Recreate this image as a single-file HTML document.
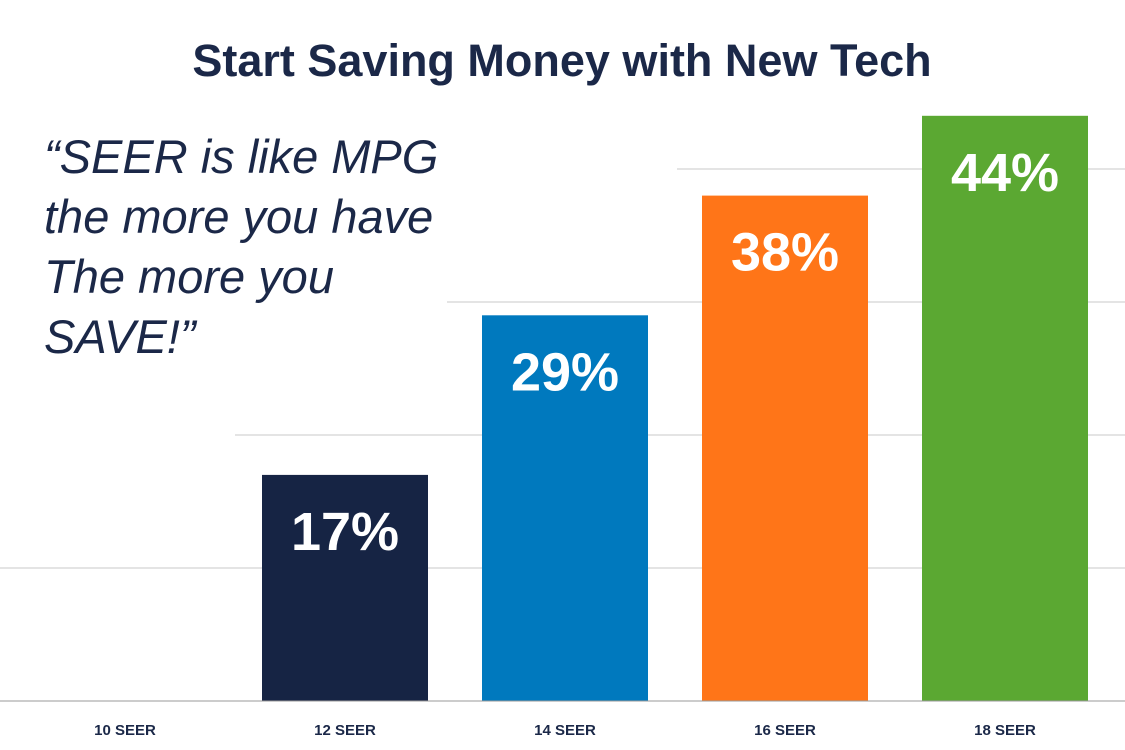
<!DOCTYPE html>
<html><head><meta charset="utf-8"><style>
body{margin:0;background:#fff;}
svg{display:block;font-family:"Liberation Sans",sans-serif;}
</style></head><body>
<svg id="chart" width="1125" height="750" viewBox="0 0 1125 750">
<text x="562" y="76" text-anchor="middle" font-size="45" font-weight="bold" fill="#1b2848">Start Saving Money with New Tech</text>
<g id="grid"></g>
<g id="bars"></g>
<g font-size="47" font-style="italic" fill="#1b2848">
<text x="44" y="173">“SEER is like MPG</text>
<text x="44" y="233">the more you have</text>
<text x="44" y="293">The more you</text>
<text x="44" y="353">SAVE!”</text>
</g>
<line x1="0" y1="701" x2="1125" y2="701" stroke="#999" stroke-width="1"/>
<g id="xlabels"></g>
</svg>
<script>
const categories=["10 SEER","12 SEER","14 SEER","16 SEER","18 SEER"];
const values=[0,17,29,38,44];
const valueLabels=["","17%","29%","38%","44%"];
const gridTicks=[10,20,30,40];
const colors=["#162444","#162444","#0079be","#ff7518","#5ba832"];
const NS="http://www.w3.org/2000/svg";
const base=701, pxPer=13.3, step=220, x0=125, bw=166;
const y=v=>base-v*pxPer;
const xc=i=>x0+i*step;
const grid=document.getElementById('grid'),bars=document.getElementById('bars'),xl=document.getElementById('xlabels');
const gridStarts=[0,235,447,677];
gridTicks.forEach((t,k)=>{
 const l=document.createElementNS(NS,'line');
 
 
 l.setAttribute('x1',gridStarts[k]||0);l.setAttribute('x2',1125);
 l.setAttribute('y1',y(t));l.setAttribute('y2',y(t));
 l.setAttribute('stroke','#c8c8c8');l.setAttribute('stroke-width','1');
 grid.appendChild(l);
});
categories.forEach((c,i)=>{
 if(values[i]>0){
  const r=document.createElementNS(NS,'rect');
  
  
  r.setAttribute('x',xc(i)-bw/2);r.setAttribute('width',bw);
  r.setAttribute('y',y(values[i]));r.setAttribute('height',values[i]*pxPer);
  r.setAttribute('fill',colors[i]);
  bars.appendChild(r);
  const t=document.createElementNS(NS,'text');
  
  
  t.setAttribute('x',xc(i));t.setAttribute('y',y(values[i])+75);
  t.setAttribute('text-anchor','middle');t.setAttribute('font-size','54');
  t.setAttribute('font-weight','bold');t.setAttribute('fill','#fff');
  t.textContent=valueLabels[i];
  bars.appendChild(t);
 }
 const lab=document.createElementNS(NS,'text');
 
 
 lab.setAttribute('x',xc(i));lab.setAttribute('y',735);
 lab.setAttribute('text-anchor','middle');lab.setAttribute('font-size','15');
 lab.setAttribute('font-weight','bold');lab.setAttribute('fill','#1b2848');
 lab.textContent=c;
 xl.appendChild(lab);
});
</script>
</body></html>
